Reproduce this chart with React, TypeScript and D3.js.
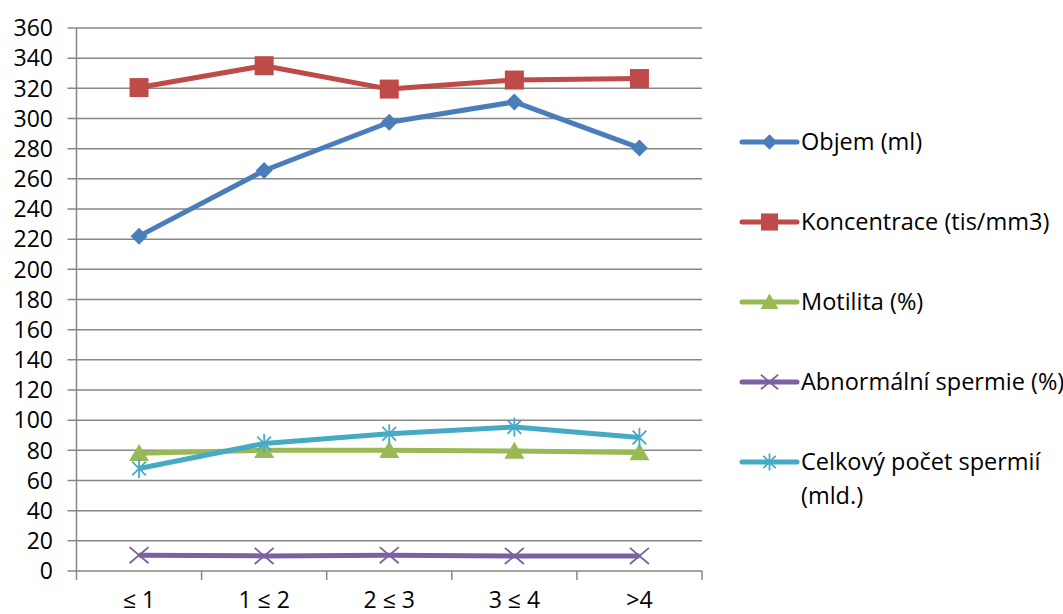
import React from "react";
import * as d3 from "d3";

const categories = ["≤ 1", "1 ≤ 2", "2 ≤ 3", "3 ≤ 4", ">4"];
const objem = [222, 265.5, 297.5, 311, 280.5];
const koncentrace = [320.5, 335, 319.5, 325.5, 326.5];
const motilita = [78, 80, 80, 79.5, 78.5];
const abnormalni = [10.5, 10, 10.5, 10, 10];
const celkovy = [68, 84.5, 91, 95.5, 88.5];
const yTicks = d3.range(0, 361, 20);

type Shape = "diamond" | "square" | "triangle" | "x" | "star";
const series: { name: string[]; values: number[]; color: string; shape: Shape }[] = [
  { name: ["Objem (ml)"], values: objem, color: "#4A7EBB", shape: "diamond" },
  { name: ["Koncentrace (tis/mm3)"], values: koncentrace, color: "#BE4B48", shape: "square" },
  { name: ["Motilita (%)"], values: motilita, color: "#98B954", shape: "triangle" },
  { name: ["Abnormální spermie (%)"], values: abnormalni, color: "#7D60A0", shape: "x" },
  { name: ["Celkový počet spermií", "(mld.)"], values: celkovy, color: "#46AAC5", shape: "star" },
];

const FONT = "'Open Sans', sans-serif";

function Marker({ shape, x, y, color, scale = 1 }: { shape: Shape; x: number; y: number; color: string; scale?: number }) {
  const s = scale;
  if (shape === "diamond") {
    const r = 8.5 * s;
    return <path d={`M${x},${y - r}L${x + r},${y}L${x},${y + r}L${x - r},${y}Z`} fill={color} />;
  }
  if (shape === "square") {
    const r = 9.5 * s;
    return <rect x={x - r} y={y - r} width={2 * r} height={2 * r} fill={color} />;
  }
  if (shape === "triangle") {
    const w = 10 * s;
    const h = 17 * s;
    return <path d={`M${x},${y - h * 0.55}L${x + w},${y + h * 0.45}L${x - w},${y + h * 0.45}Z`} fill={color} />;
  }
  if (shape === "x") {
    const r = 9.5 * s;
    return (
      <path d={`M${x - r},${y - r * 0.85}L${x + r},${y + r * 0.85}M${x - r},${y + r * 0.85}L${x + r},${y - r * 0.85}`} stroke={color} strokeWidth={1.8} fill="none" />
    );
  }
  const r = 9.5 * s;
  const d = r * 0.72;
  return (
    <path
      d={`M${x},${y - r}L${x},${y + r}M${x - d},${y - d}L${x + d},${y + d}M${x - d},${y + d}L${x + d},${y - d}`}
      stroke={color}
      strokeWidth={1.8}
      fill="none"
    />
  );
}

export default function App() {
  const width = 1063;
  const height = 614;
  const left = 76.5;
  const right = 702;
  const top = 28;
  const bottom = 571;

  const x = d3.scaleBand<string>().domain(categories).range([left, right]);
  const y = d3.scaleLinear().domain([0, 360]).range([bottom, top]);
  const cx = (c: string) => (x(c) ?? 0) + x.bandwidth() / 2;

  const line = d3
    .line<number>()
    .x((_, i) => cx(categories[i]))
    .y((v) => y(v));

  const legendX1 = 742;
  const legendX2 = 797;
  const legendRows = [142, 222, 302, 382, 462];

  return (
    <svg width={width} height={height} style={{ position: "absolute", left: 0, top: 0, background: "#fff" }}>
      {/* horizontal gridlines, extended left as tick marks */}
      {yTicks.map((t) => (
        <line key={t} x1={left - 9} x2={right} y1={y(t)} y2={y(t)} stroke="#878787" strokeWidth={1.5} />
      ))}
      {/* y axis */}
      <line x1={left} x2={left} y1={top} y2={bottom} stroke="#878787" strokeWidth={1.5} />
      {/* category tick marks */}
      {[...categories.map((c) => x(c) ?? 0), right].map((t, i) => (
        <line key={i} x1={t} x2={t} y1={bottom} y2={bottom + 9} stroke="#878787" strokeWidth={1.5} />
      ))}
      {yTicks.map((t) => (
        <text key={t} x={53} y={y(t)} dy="0.36em" textAnchor="end" fontFamily={FONT} fontSize={23} fill="#000">
          {t}
        </text>
      ))}
      {categories.map((c) => (
        <text key={c} x={cx(c)} y={608} textAnchor="middle" fontFamily={FONT} fontSize={23} fill="#000">
          {c}
        </text>
      ))}
      {series.map((s) => (
        <g key={s.name[0]}>
          <path d={line(s.values) ?? ""} fill="none" stroke={s.color} strokeWidth={5} strokeLinejoin="round" />
          {s.values.map((v, i) => (
            <Marker key={i} shape={s.shape} x={cx(categories[i])} y={y(v)} color={s.color} />
          ))}
        </g>
      ))}
      {series.map((s, k) => (
        <g key={s.name[0]}>
          <line x1={legendX1} x2={legendX2} y1={legendRows[k]} y2={legendRows[k]} stroke={s.color} strokeWidth={5} strokeLinecap="round" />
          <Marker shape={s.shape} x={(legendX1 + legendX2) / 2} y={legendRows[k]} color={s.color} scale={0.9} />
          {s.name.map((n, j) => (
            <text key={j} x={801} y={legendRows[k] + j * 34} dy="0.36em" fontFamily={FONT} fontSize={23.5} fill="#000">
              {n}
            </text>
          ))}
        </g>
      ))}
    </svg>
  );
}
